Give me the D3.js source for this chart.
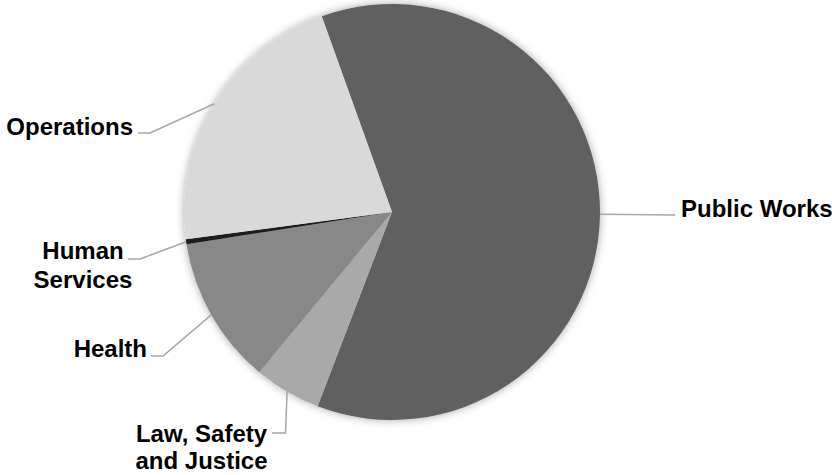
<!DOCTYPE html>
<html>
<head>
<meta charset="utf-8">
<script src="https://cdn.jsdelivr.net/npm/d3@7"></script>
<style>
  html, body { margin: 0; padding: 0; background: #ffffff; }
  svg { display: block; }
  text { font-family: "Liberation Sans", Arial, sans-serif; font-weight: bold; font-size: 24px; fill: #000; }
</style>
</head>
<body>
<svg id="chart" width="832" height="475"></svg>
<script>
// Budget share by department (percent), listed clockwise from the top
const categories = ["Public Works", "Law, Safety and Justice", "Health", "Human Services", "Operations"];
const shares = [61.3, 5.2, 11.5, 0.4, 21.6];
const labelLines = [["Public Works"], ["Law, Safety", "and Justice"], ["Health"], ["Human", "Services"], ["Operations"]];
const sliceColors = ["#606060", "#a9a9a9", "#888888", "#1f1f1f", "#d9d9d9"];

const W = 832, H = 475;
const cx = 392, cy = 212, R = 208;
const startDeg = -19.75;

// Label placement: elbow of the leader, end of the leader, text anchor and first baseline
const labelLayout = [
  { elbow: [675, 215], end: [675, 215], tx: 681, ty: 217, anchor: "start", lh: 29 },
  { elbow: [285.5, 433], end: [272, 433], tx: 201.5, ty: 442, anchor: "middle", lh: 27 },
  { elbow: [163, 356], end: [151, 356], tx: 147, ty: 356.5, anchor: "end", lh: 29 },
  { elbow: [140, 259], end: [128, 259], tx: 83, ty: 259, anchor: "middle", lh: 29 },
  { elbow: [150, 133], end: [138, 133], tx: 133, ty: 135, anchor: "end", lh: 29 }
];

const svg = d3.select("#chart");

const defs = svg.append("defs");
const shadow = defs.append("filter").attr("id", "pieShadow")
  .attr("x", "-20%").attr("y", "-20%").attr("width", "140%").attr("height", "140%");
shadow.append("feDropShadow")
  .attr("dx", 0).attr("dy", 0).attr("stdDeviation", 4)
  .attr("flood-color", "#000").attr("flood-opacity", 0.35);

const rad = Math.PI / 180;
const pie = d3.pie().sort(null).value(d => d)
  .startAngle(startDeg * rad).endAngle((startDeg + 360) * rad);
const arcs = pie(shares);

const arc = d3.arc().innerRadius(0).outerRadius(R);
const color = d3.scaleOrdinal().domain(categories).range(sliceColors);

const g = svg.append("g").attr("transform", `translate(${cx},${cy})`);
g.append("g").attr("filter", "url(#pieShadow)")
  .selectAll("path")
  .data(arcs)
  .join("path")
  .attr("d", arc)
  .attr("fill", (d, i) => color(categories[i]));

// Leader lines from the middle of each slice's rim
const leaders = svg.append("g")
  .attr("fill", "none").attr("stroke", "#a6a6a6").attr("stroke-width", 1.5);
arcs.forEach((d, i) => {
  const mid = (d.startAngle + d.endAngle) / 2;
  const p0 = [cx + R * Math.sin(mid), cy - R * Math.cos(mid)];
  const L = labelLayout[i];
  leaders.append("path")
    .attr("d", d3.line()([p0, L.elbow, L.end]));
});

// Category labels
const labels = svg.append("g");
labelLines.forEach((lines, i) => {
  const L = labelLayout[i];
  const t = labels.append("text")
    .attr("text-anchor", L.anchor);
  lines.forEach((s, k) => {
    t.append("tspan").attr("x", L.tx).attr("y", L.ty + k * L.lh).text(s);
  });
});
</script>
</body>
</html>
